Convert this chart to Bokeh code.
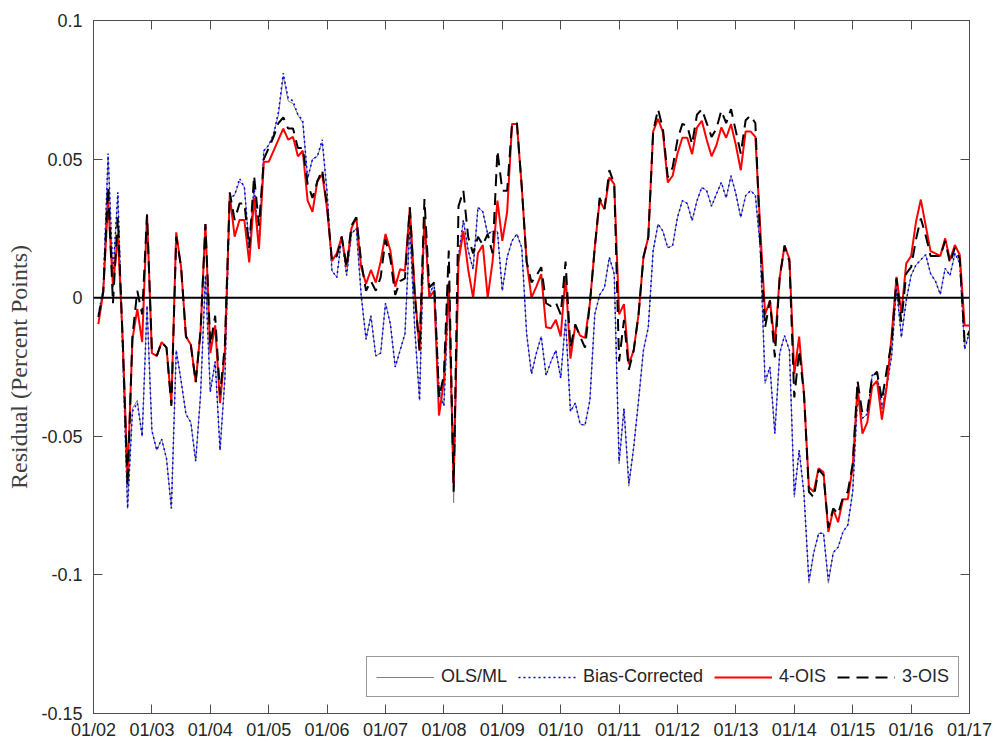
from bokeh.plotting import figure
from bokeh.models import (Range1d, FixedTicker, LinearAxis, Span, Legend, LegendItem)
from bokeh.embed import file_html
from bokeh.resources import INLINE

# monthly observations, Feb 2002 .. Jan 2017 (month index 1..180, 0 = Jan 2002)
months = list(range(1, 181))

bias_corrected = [
    -0.006, 0.003, 0.052, 0.008, 0.038, -0.020, -0.076, -0.041, -0.038, -0.050,
    -0.003, -0.048, -0.055, -0.051, -0.058, -0.076, -0.019, -0.030, -0.042, -0.045,
    -0.059, -0.035, 0.008, -0.034, -0.023, -0.055, -0.029, 0.036, 0.037, 0.043,
    0.040, 0.018, 0.040, 0.018, 0.053, 0.055, 0.059, 0.067, 0.081, 0.072,
    0.071, 0.066, 0.064, 0.043, 0.050, 0.051, 0.057, 0.038, 0.0097, 0.0073,
    0.022, 0.008, 0.023, 0.025, 0.001, -0.015, -0.0065, -0.021, -0.020, -0.002,
    -0.0095, -0.025, -0.019, -0.013, 0.026, -0.011, -0.037, 0.029, 0.001, 0.005,
    -0.0335, -0.039, 0.0025, -0.069, 0.0146, 0.028, 0.017, 0.0103, 0.0326, 0.031,
    0.023, 0.024, 0.024, 0.0025, 0.0146, 0.0205, 0.023, 0.018, -0.013, -0.0275,
    -0.020, -0.014, -0.028, -0.023, -0.019, -0.029, -0.008, -0.041, -0.038, -0.0456,
    -0.046, -0.037, -0.006, 0.001, 0.0037, 0.0146, 0.0085, -0.059, -0.040, -0.067,
    -0.054, -0.037, -0.019, -0.0107, 0.017, 0.0266, 0.024, 0.018, 0.0188, 0.029,
    0.035, 0.034, 0.0278, 0.035, 0.0398, 0.0386, 0.033, 0.0374, 0.0416, 0.036,
    0.044, 0.0374, 0.029, 0.0368, 0.0386, 0.037, 0.018, -0.030, -0.025, -0.049,
    -0.020, -0.0137, -0.019, -0.071, -0.055, -0.071, -0.102, -0.092, -0.085, -0.085,
    -0.102, -0.092, -0.090, -0.0845, -0.082, -0.070, -0.036, -0.0435, -0.042, -0.028,
    -0.0275, -0.040, -0.032, -0.021, 0.0037, -0.0143, -0.001, 0.008, 0.0118, 0.0137,
    0.0155, 0.0087, 0.006, 0.0012, 0.0106, 0.008, 0.016, 0.0124, -0.0186, -0.0124,
]

ols_ml = [
    -0.006, 0.003, 0.051, 0.008, 0.037, -0.020, -0.076, -0.040, -0.037, -0.050,
    -0.003, -0.048, -0.055, -0.051, -0.058, -0.076, -0.019, -0.030, -0.042, -0.045,
    -0.059, -0.035, 0.008, -0.034, -0.023, -0.055, -0.029, 0.036, 0.037, 0.042,
    0.040, 0.018, 0.040, 0.018, 0.053, 0.055, 0.059, 0.066, 0.080, 0.071,
    0.070, 0.066, 0.063, 0.043, 0.050, 0.051, 0.056, 0.038, 0.0097, 0.0073,
    0.022, 0.008, 0.023, 0.025, 0.001, -0.015, -0.0065, -0.021, -0.020, -0.002,
    -0.0095, -0.025, -0.019, -0.013, 0.026, -0.011, -0.037, 0.029, 0.001, 0.005,
    -0.0335, -0.039, 0.0025, -0.074, 0.0146, 0.028, 0.017, 0.0103, 0.0326, 0.031,
    0.023, 0.024, 0.024, 0.0025, 0.0146, 0.0205, 0.023, 0.018, -0.013, -0.0275,
    -0.020, -0.014, -0.028, -0.023, -0.019, -0.029, -0.008, -0.041, -0.038, -0.0456,
    -0.046, -0.037, -0.006, 0.001, 0.0037, 0.0146, 0.0085, -0.060, -0.040, -0.068,
    -0.054, -0.037, -0.019, -0.0107, 0.017, 0.0266, 0.024, 0.018, 0.0188, 0.029,
    0.035, 0.034, 0.0278, 0.035, 0.0398, 0.0386, 0.033, 0.0374, 0.0416, 0.036,
    0.044, 0.0374, 0.029, 0.0368, 0.0386, 0.037, 0.018, -0.031, -0.025, -0.049,
    -0.020, -0.0137, -0.019, -0.072, -0.055, -0.071, -0.103, -0.092, -0.085, -0.085,
    -0.103, -0.092, -0.090, -0.0845, -0.082, -0.070, -0.036, -0.0435, -0.042, -0.028,
    -0.0275, -0.040, -0.032, -0.021, 0.0037, -0.0143, -0.001, 0.008, 0.0118, 0.0137,
    0.0155, 0.0087, 0.006, 0.0012, 0.0106, 0.008, 0.016, 0.0124, -0.0186, -0.0124,
]

ois4 = [
    -0.0095, 0.002, 0.035, 0.004, 0.023, -0.015, -0.065, -0.015, -0.004, -0.016,
    0.030, -0.020, -0.021, -0.016, -0.018, -0.038, 0.0236, 0.011, -0.014, -0.017,
    -0.0305, -0.012, 0.0266, -0.020, -0.010, -0.038, -0.019, 0.037, 0.022, 0.028,
    0.028, 0.0127, 0.036, 0.0176, 0.049, 0.049, 0.053, 0.057, 0.061, 0.057,
    0.058, 0.051, 0.053, 0.035, 0.031, 0.042, 0.0446, 0.032, 0.0133, 0.016,
    0.022, 0.011, 0.025, 0.029, 0.011, 0.005, 0.010, 0.0055, 0.013, 0.023,
    0.017, 0.004, 0.0103, 0.0097, 0.0326, 0.0025, -0.019, 0.029, 0.000, 0.0025,
    -0.0425, -0.030, 0.0055, -0.067, 0.013, 0.024, 0.010, 0.000, 0.016, 0.019,
    0.000, 0.013, 0.035, 0.0205, 0.031, 0.0627, 0.0627, 0.040, 0.013, 0.000,
    0.004, 0.0085, -0.0107, -0.011, -0.008, -0.014, 0.008, -0.022, -0.010, -0.0137,
    -0.0145, -0.002, 0.018, 0.035, 0.032, 0.0434, 0.041, -0.006, -0.0023, -0.024,
    -0.019, -0.006, 0.0146, 0.0218, 0.060, 0.0645, 0.0597, 0.0416, 0.044, 0.052,
    0.0577, 0.0577, 0.0518, 0.0614, 0.0638, 0.057, 0.051, 0.055, 0.0614, 0.0577,
    0.0626, 0.055, 0.046, 0.060, 0.060, 0.058, 0.025, -0.006, -0.001, -0.0167,
    0.0073, 0.0188, 0.014, -0.0275, -0.014, -0.035, -0.0684, -0.070, -0.0615, -0.063,
    -0.0845, -0.0764, -0.081, -0.0727, -0.0727, -0.061, -0.032, -0.049, -0.045, -0.032,
    -0.030, -0.044, -0.032, -0.0137, 0.0075, -0.0056, 0.0124, 0.015, 0.0273, 0.0354,
    0.026, 0.0168, 0.016, 0.015, 0.0214, 0.0137, 0.019, 0.0155, -0.010, -0.010,
]

ois3 = [
    -0.007, 0.002, 0.040, -0.002, 0.029, -0.015, -0.068, -0.014, 0.0025, -0.006,
    0.030, -0.019, -0.021, -0.016, -0.018, -0.039, 0.022, 0.011, -0.014, -0.017,
    -0.0305, -0.012, 0.0266, -0.017, -0.0065, -0.035, -0.017, 0.038, 0.028, 0.034,
    0.034, 0.018, 0.044, 0.026, 0.050, 0.054, 0.058, 0.063, 0.065, 0.061,
    0.061, 0.054, 0.054, 0.041, 0.036, 0.042, 0.046, 0.033, 0.0133, 0.015,
    0.022, 0.011, 0.026, 0.029, 0.013, 0.0025, 0.006, 0.0025, 0.0073, 0.021,
    0.014, 0.001, 0.006, 0.007, 0.0326, 0.001, -0.019, 0.0356, 0.0037, 0.0055,
    -0.036, -0.028, 0.017, -0.070, 0.033, 0.0386, 0.0218, 0.016, 0.022, 0.019,
    0.023, 0.016, 0.053, 0.0386, 0.0386, 0.0627, 0.063, 0.040, 0.013, 0.0055,
    0.008, 0.011, -0.002, -0.003, -0.0017, -0.006, 0.013, -0.018, -0.0096, -0.014,
    -0.018, -0.002, 0.018, 0.036, 0.032, 0.046, 0.041, -0.023, -0.008, -0.026,
    -0.019, -0.006, 0.0146, 0.0218, 0.060, 0.068, 0.061, 0.0434, 0.047, 0.057,
    0.0627, 0.062, 0.0554, 0.066, 0.068, 0.063, 0.058, 0.061, 0.0675, 0.063,
    0.068, 0.060, 0.052, 0.064, 0.0657, 0.063, 0.020, -0.0107, -0.001, -0.0215,
    0.0073, 0.0188, 0.013, -0.036, -0.019, -0.035, -0.070, -0.072, -0.062, -0.064,
    -0.083, -0.076, -0.078, -0.072, -0.070, -0.060, -0.030, -0.042, -0.041, -0.0286,
    -0.0267, -0.037, -0.026, -0.016, 0.007, -0.0087, 0.0087, 0.011, 0.021, 0.0286,
    0.0224, 0.015, 0.015, 0.015, 0.0205, 0.0124, 0.018, 0.014, -0.016, -0.012,
]

x_tick_values = list(range(0, 181, 12))
x_tick_labels = ["01/%02d" % (y % 100) for y in range(2002, 2018)]
y_tick_values = [-0.15, -0.1, -0.05, 0.0, 0.05, 0.1]
y_tick_labels = ["-0.15", "-0.1", "-0.05", "0", "0.05", "0.1"]

series_names = ["OLS/ML", "Bias-Corrected", "4-OIS", "3-OIS"]

AXIS_COLOR = "#4d4d4d"
TEXT_COLOR = "#262626"
SANS = "Liberation Sans"

p = figure(width=994, height=742, output_backend="svg", toolbar_location=None,
           x_range=Range1d(0, 180), y_range=Range1d(-0.15, 0.1),
           min_border_left=93, min_border_right=25, min_border_top=20,
           min_border_bottom=29)
p.background_fill_color = "white"
p.border_fill_color = "white"
p.grid.visible = False
p.outline_line_color = AXIS_COLOR
p.outline_line_width = 1

r_ols = p.line(months, ols_ml, line_color="#808080", line_width=1)
r_bc = p.line(months, bias_corrected, line_color="#0000ff", line_width=1.5,
              line_dash="2 3")
r_4 = p.line(months, ois4, line_color="#ff0000", line_width=2)
r_3 = p.line(months, ois3, line_color="#000000", line_width=2, line_dash="12 7")

p.add_layout(Span(location=0, dimension="width", line_color="black", line_width=2))

def style_axis(ax, ticks, show_labels):
    ax.ticker = FixedTicker(ticks=ticks)
    ax.axis_line_color = AXIS_COLOR
    ax.major_tick_line_color = AXIS_COLOR
    ax.major_tick_in = 9
    ax.major_tick_out = 0
    ax.minor_tick_line_color = None
    if show_labels:
        ax.major_label_text_font = SANS
        ax.major_label_text_font_size = "18px"
        ax.major_label_text_color = TEXT_COLOR
    else:
        ax.major_label_text_font_size = "1px"
        ax.major_label_text_color = None
        ax.major_label_standoff = 0

xa = p.xaxis[0]
style_axis(xa, x_tick_values, True)
xa.major_label_overrides = {v: s for v, s in zip(x_tick_values, x_tick_labels)}
xa.major_label_standoff = 6

ya = p.yaxis[0]
style_axis(ya, y_tick_values, True)
ya.major_label_overrides = {v: s for v, s in zip(y_tick_values, y_tick_labels)}
ya.major_label_standoff = 11
ya.axis_label = "Residual (Percent Points)"
ya.axis_label_text_font = "Liberation Serif"
ya.axis_label_text_font_size = "24px"
ya.axis_label_text_font_style = "normal"
ya.axis_label_text_color = "#404040"
ya.axis_label_standoff = 6

ra = LinearAxis()
style_axis(ra, y_tick_values, False)
p.add_layout(ra, "right")
ta = LinearAxis()
style_axis(ta, x_tick_values, False)
p.add_layout(ta, "above")

legend = Legend(items=[
    LegendItem(label=series_names[0], renderers=[r_ols]),
    LegendItem(label=series_names[1], renderers=[r_bc]),
    LegendItem(label=series_names[2], renderers=[r_4]),
    LegendItem(label=series_names[3], renderers=[r_3]),
], orientation="horizontal", location=(273, 16))
legend.label_text_font = SANS
legend.label_text_font_size = "18px"
legend.label_text_color = TEXT_COLOR
legend.glyph_width = 58
legend.glyph_height = 18
legend.label_height = 18
legend.label_standoff = 7
legend.spacing = 11
legend.padding = 9
legend.margin = 0
legend.border_line_color = "#333333"
legend.border_line_width = 1
legend.background_fill_color = "white"
legend.background_fill_alpha = 1
p.add_layout(legend)

open("out.html", "w").write(file_html(p, INLINE))
